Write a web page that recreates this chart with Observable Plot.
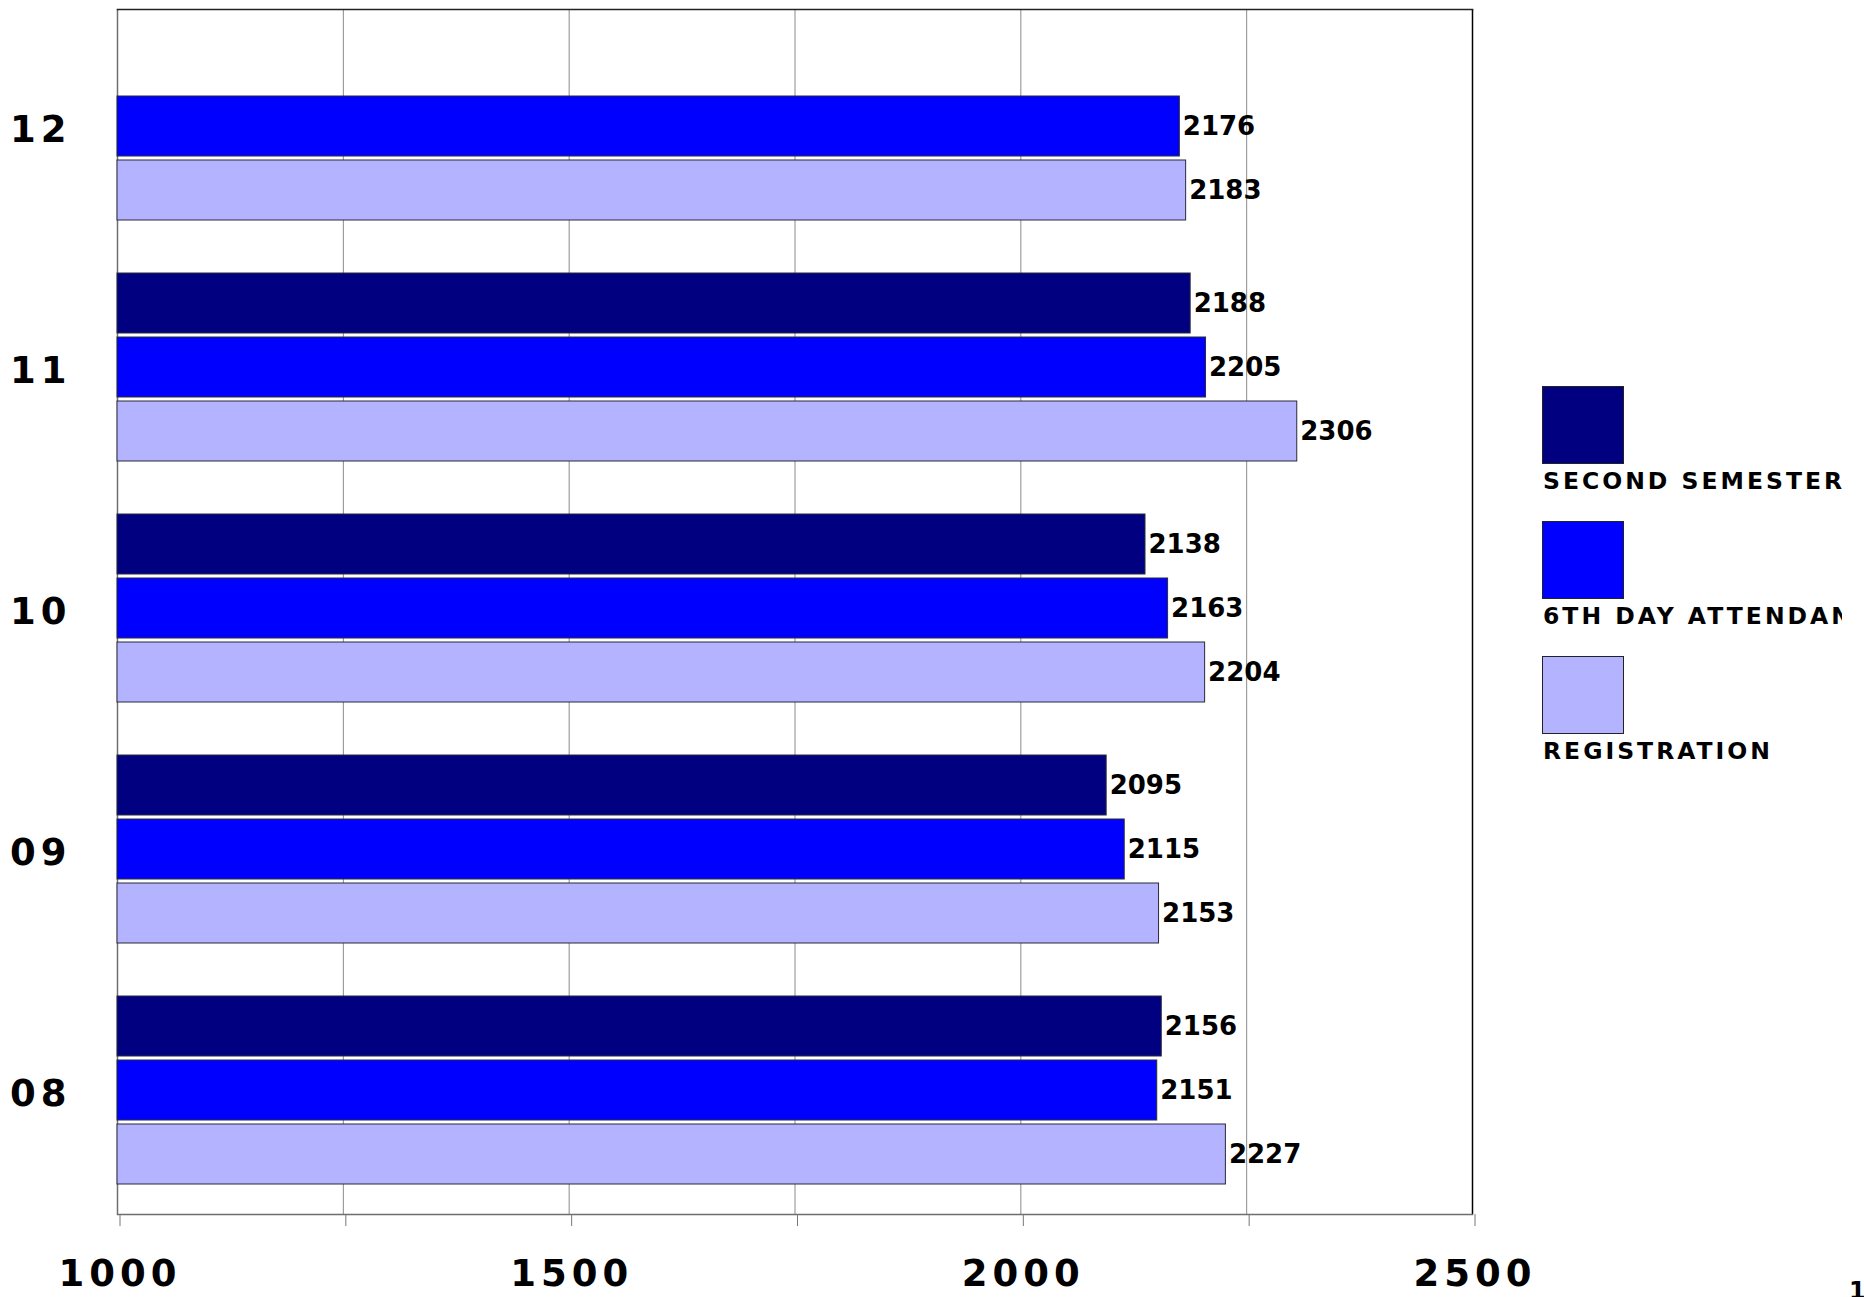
<!DOCTYPE html>
<html>
<head>
<meta charset="utf-8">
<script src="https://cdn.jsdelivr.net/npm/d3@7"></script>
<script src="https://cdn.jsdelivr.net/npm/@observablehq/plot@0.6"></script>
<style>
  html, body { margin: 0; padding: 0; background: #fff; width: 1864px; height: 1297px; overflow: hidden; position: relative; }
  #chart { position: absolute; left: 0; top: 0; }
  g[aria-label="x-axis tick label"] text { letter-spacing: 5px; }
  g[aria-label="fy-axis tick label"] text { letter-spacing: 5px; }
  g[aria-label="values"] text { letter-spacing: -0.5px; }
  #legend { position: absolute; left: 1542px; top: 386px; width: 300px; height: 400px; overflow: hidden; font-family: "DejaVu Sans", sans-serif; font-weight: bold; }
  .item { position: absolute; left: 0; }
  .sw { position: absolute; left: 0; top: 0; width: 80px; height: 76px; border: 1px solid #222; }
  .lab { position: absolute; left: 1px; top: 84px; font-size: 23.5px; line-height: 1; letter-spacing: 3px; white-space: nowrap; color: #000; }
  #page { position: absolute; left: 1849px; top: 1277px; font-family: "DejaVu Sans", sans-serif; font-size: 24px; font-weight: bold; }
</style>
</head>
<body>
<div id="chart"></div>
<div id="legend"></div>
<div id="page">1</div>
<script>
// ---- data ----
const years = ["12", "11", "10", "09", "08"];
const seriesNames = ["SECOND SEMESTER", "6TH DAY ATTENDANCE", "REGISTRATION"];
const seriesColors = ["#000080", "#0000ff", "#b3b3ff"];
const secondSemester = [null, 2188, 2138, 2095, 2156];
const sixthDayAttendance = [2176, 2205, 2163, 2115, 2151];
const registration = [2183, 2306, 2204, 2153, 2227];
const xDomain = [1000, 2500];
const gridTicks = [1000, 1250, 1500, 1750, 2000, 2250, 2500];
const labeledTicks = [1000, 1500, 2000, 2500];

const seriesValues = [secondSemester, sixthDayAttendance, registration];
const rows = [];
years.forEach((yr, i) => {
  seriesNames.forEach((s, j) => {
    const v = seriesValues[j][i];
    if (v != null) rows.push({year: yr, series: s, value: v});
  });
});

const plot = Plot.plot({
  width: 1500,
  height: 1297,
  marginLeft: 117,
  marginTop: 7,
  marginRight: 28,
  marginBottom: 82,
  style: {fontFamily: "DejaVu Sans", background: "white", overflow: "visible"},
  x: {domain: xDomain, axis: null, label: null},
  y: {domain: seriesNames, axis: null, label: null, paddingInner: 0.065, paddingOuter: 0.397, align: 0.43},
  fy: {domain: years, padding: 0, axis: null, label: null},
  color: {domain: seriesNames, range: seriesColors},
  marks: [
    Plot.gridX(gridTicks, {stroke: "#8a8a8a", strokeOpacity: 1, strokeWidth: 1}),
    Plot.ruleX([xDomain[0]], {stroke: "#6e6e6e", strokeWidth: 1.5}),
    Plot.ruleX([xDomain[1]], {stroke: "#000", strokeWidth: 1.5}),
    Plot.frame({anchor: "top", facetAnchor: "top", stroke: "#222", strokeWidth: 1.5}),
    Plot.frame({anchor: "bottom", facetAnchor: "bottom", stroke: "#6e6e6e", strokeWidth: 1.5}),
    Plot.barX(rows, {
      fy: "year", y: "series", x1: () => xDomain[0], x2: "value",
      fill: "series", stroke: "#2a2a3a", strokeWidth: 1
    }),
    Plot.text(rows, {
      fy: "year", y: "series", x: "value", text: d => String(d.value),
      textAnchor: "start", dx: 3, fontSize: 26, fontWeight: "bold", fill: "#000",
      ariaLabel: "values"
    }),
    Plot.axisX({
      ticks: gridTicks, tickSize: 12, tickPadding: 33, label: null,
      tickFormat: d => labeledTicks.includes(d) ? String(d) : "",
      fontSize: 37, fontWeight: "bold", stroke: "#777", fill: "#000", dx: 2.5
    }),
    Plot.axisFy({
      anchor: "left", tickSize: 0, tickPadding: 46, label: null,
      fontSize: 37, fontWeight: "bold", fill: "#000"
    })
  ]
});
document.getElementById("chart").appendChild(plot);

// legend
const legend = document.getElementById("legend");
seriesNames.forEach((s, j) => {
  const item = document.createElement("div");
  item.className = "item";
  item.style.top = (j * 135) + "px";
  const sw = document.createElement("div");
  sw.className = "sw";
  sw.style.background = seriesColors[j];
  const lab = document.createElement("div");
  lab.className = "lab";
  lab.textContent = s;
  item.appendChild(sw);
  item.appendChild(lab);
  legend.appendChild(item);
});
</script>
</body>
</html>
